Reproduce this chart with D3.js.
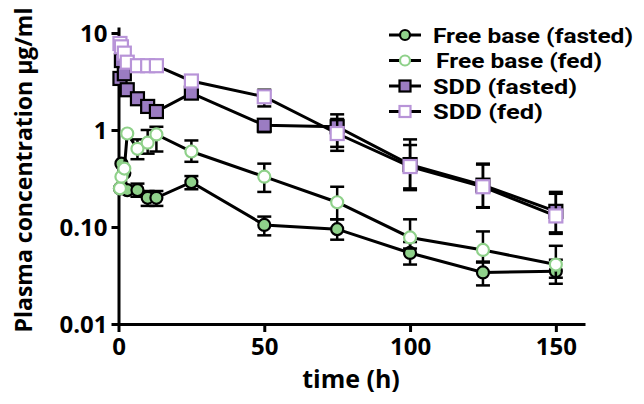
<!DOCTYPE html>
<html><head><meta charset="utf-8">
<script src="https://cdn.jsdelivr.net/npm/d3@7"></script>
<style>body{margin:0;background:#fff}svg{display:block}text{font-family:"Open Sans",sans-serif;font-weight:700;fill:#000}</style>
</head><body><svg id="c" width="644" height="404"></svg>
<script>
const times = [0.5, 1, 2, 3, 6.5, 10, 13, 25, 50, 75, 100, 125, 150];
const seriesNames = ["Free base (fasted)", "Free base (fed)", "SDD (fasted)", "SDD (fed)"];
const fbFasted   = [0.25, 0.45, 0.36, 0.24, 0.24, 0.20, 0.20, 0.29, 0.105, 0.095, 0.054, 0.034, 0.035];
const fbFastedLo = [null, null, null, null, 0.205, 0.165, 0.165, 0.245, 0.082, 0.074, 0.041, 0.025, 0.026];
const fbFastedHi = [null, null, null, null, 0.28, 0.235, 0.235, 0.335, 0.128, 0.12, 0.07, 0.044, 0.046];
const fbFed      = [0.25, 0.33, 0.40, 0.92, 0.64, 0.74, 0.90, 0.60, 0.33, 0.18, 0.078, 0.058, 0.041];
const fbFedLo    = [null, null, null, null, 0.50, 0.57, 0.60, 0.47, 0.23, 0.12, 0.06, 0.043, 0.03];
const fbFedHi    = [null, null, null, null, 0.80, 1.0, 1.08, 0.78, 0.45, 0.26, 0.12, 0.09, 0.064];
const sddFasted   = [3.4, 5.2, 3.8, 2.6, 2.1, 1.75, 1.55, 2.4, 1.12, 1.08, 0.44, 0.27, 0.145];
const sddFastedLo = [null, null, null, null, null, null, null, null, 0.95, 0.67, 0.24, 0.158, 0.088];
const sddFastedHi = [null, null, null, null, null, null, null, null, 1.25, 1.45, 0.8, 0.44, 0.23];
const sddFed      = [7.8, 7.2, 6.2, 5.0, 4.6, 4.6, 4.6, 3.2, 2.2, 0.92, 0.42, 0.26, 0.13];
const sddFedLo    = [null, null, null, null, null, null, null, null, 1.75, 0.61, 0.25, 0.16, 0.085];
const sddFedHi    = [null, null, null, null, null, null, null, null, 2.6, 1.3, 0.7, 0.45, 0.22];
const xTicks = [0, 50, 100, 150];
const yTicks = [0.01, 0.1, 1, 10];
const yTickLabels = ["0.01", "0.10", "1", "10"];
const xTitle = "time (h)";
const yTitle = "Plasma concentration µg/ml";

const svg = d3.select("#c");
const x = d3.scaleLinear().domain([0, 160]).range([118.5, 585]);
const y = d3.scaleLog().domain([0.01, 11.53]).range([324, 27]);

const GREEN = "#8fd18a", PURPLE = "#9b7cc2", LPURPLE = "#b894d8";
const styles = [
  {shape: "circle", fill: GREEN, stroke: "#000"},
  {shape: "circle", fill: "#fff", stroke: GREEN},
  {shape: "square", fill: PURPLE, stroke: "#000"},
  {shape: "square", fill: "#fff", stroke: LPURPLE}
];
const data = [
  [fbFasted, fbFastedLo, fbFastedHi],
  [fbFed, fbFedLo, fbFedHi],
  [sddFasted, sddFastedLo, sddFastedHi],
  [sddFed, sddFedLo, sddFedHi]
];

// axes
const xAxis = svg.append("g").attr("transform", "translate(0,324)")
  .call(d3.axisBottom(x).tickValues(xTicks).tickSize(8).tickSizeOuter(0));
const yAxis = svg.append("g").attr("transform", "translate(118.5,0)")
  .call(d3.axisLeft(y).tickValues(yTicks).tickFormat((d, i) => yTickLabels[i]).tickSize(7).tickSizeOuter(0).tickPadding(4));
[xAxis, yAxis].forEach(a => {
  a.select(".domain").attr("stroke", "#000").attr("stroke-width", 3);
  a.selectAll(".tick line").attr("stroke", "#000").attr("stroke-width", 3);
  a.selectAll(".tick text").style("font-family", "'Open Sans',sans-serif").style("font-weight", 700).style("font-size", "24px").attr("fill", "#000");
});
xAxis.selectAll(".tick text").attr("y", 31).attr("dy", 0);
yAxis.selectAll(".tick text").attr("dy", "0.36em");

svg.append("text").attr("x", 351).attr("y", 388).attr("text-anchor", "middle").style("font-size", "25px").text(xTitle);
svg.append("text").attr("transform", "translate(32,170) rotate(-90)").attr("text-anchor", "middle").style("font-size", "23px").text(yTitle);

const plot = svg.append("g");
const line = d3.line().x(d => x(d[0])).y(d => y(d[1]));

function marker(g, st, cx, cy, size) {
  if (st.shape === "circle") {
    g.append("circle").attr("cx", cx).attr("cy", cy).attr("r", size / 2)
      .attr("fill", st.fill).attr("stroke", st.stroke).attr("stroke-width", 2.2);
  } else {
    g.append("rect").attr("x", cx - size / 2).attr("y", cy - size / 2).attr("width", size).attr("height", size)
      .attr("fill", st.fill).attr("stroke", st.stroke).attr("stroke-width", 2.2);
  }
}

data.forEach((s, si) => {
  const [vals, lo, hi] = s;
  const g = plot.append("g");
  times.forEach((t, i) => {
    const cx = x(t);
    [hi[i], lo[i]].forEach(b => {
      if (b == null) return;
      g.append("line").attr("x1", cx).attr("x2", cx).attr("y1", y(vals[i])).attr("y2", y(b)).attr("stroke", "#000").attr("stroke-width", 2.5);
      g.append("line").attr("x1", cx - 7).attr("x2", cx + 7).attr("y1", y(b)).attr("y2", y(b)).attr("stroke", "#000").attr("stroke-width", 2.5);
    });
  });
  g.append("path").datum(times.map((t, i) => [t, vals[i]])).attr("d", line)
    .attr("fill", "none").attr("stroke", "#000").attr("stroke-width", 3);
  times.forEach((t, i) => marker(g, styles[si], x(t), y(vals[i]), styles[si].shape === "circle" ? 12 : 13));
});

// legend
const legY = [35, 60.5, 86, 111.5];
const legTextX = [433, 436, 433, 433];
const legTextW = [200, 166, 144, 110];
seriesNames.forEach((n, i) => {
  const g = svg.append("g");
  g.append("line").attr("x1", 389).attr("x2", 421).attr("y1", legY[i]).attr("y2", legY[i]).attr("stroke", "#000").attr("stroke-width", 3);
  marker(g, styles[i], 405, legY[i], styles[i].shape === "circle" ? 10 : 11);
  g.append("text").attr("x", legTextX[i]).attr("y", legY[i]).attr("dy", "0.36em")
    .style("font-family", "Roboto, sans-serif").style("font-size", "21px")
    .attr("textLength", legTextW[i]).attr("lengthAdjust", "spacingAndGlyphs").text(n);
});
</script></body></html>
